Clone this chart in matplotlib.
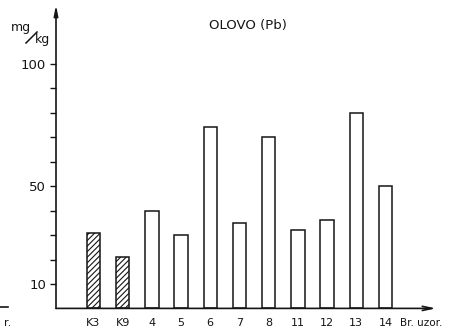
import matplotlib
matplotlib.use('Agg')
import matplotlib.pyplot as plt
from matplotlib.ticker import FixedLocator, FixedFormatter

# sample labels and lead content (mg/kg)
samples = ['K3', 'K9', '4', '5', '6', '7', '8', '11', '12', '13', '14']
lead = [31, 21, 40, 30, 74, 35, 70, 32, 36, 80, 50]
control = ['K3', 'K9']
y_ticks = [10, 20, 30, 40, 50, 60, 70, 80, 90, 100]
y_labels = ['10', '', '', '', '50', '', '', '', '', '100']

INK = '#151515'
plt.rcParams['hatch.linewidth'] = 0.8
plt.rcParams['hatch.color'] = INK

fig = plt.figure(figsize=(4.49, 3.28), dpi=100)
fig.patch.set_facecolor('white')
ax = fig.add_axes([56 / 449, 19.6 / 328, 380 / 449, 303.4 / 328])
ax.set_xlim(-1.28, 11.73)
ax.set_ylim(0, 124.1)

for i, (s, v) in enumerate(zip(samples, lead)):
    ax.bar(i, v, width=0.46, facecolor='white', edgecolor=INK, linewidth=1.1,
           hatch='//////' if s in control else None, zorder=2)
    ax.text(i, -7.0, s, ha='center', va='baseline', fontsize=8, color=INK, clip_on=False)

# axes drawn as arrows
for side in ax.spines.values():
    side.set_visible(False)
ax.annotate('', xy=(0, 1.0), xytext=(0, 0), xycoords='axes fraction',
            arrowprops=dict(arrowstyle='-|>,head_length=0.6,head_width=0.12',
                            lw=1.2, color=INK, shrinkA=0, shrinkB=0))
ax.annotate('', xy=(1.0, 0), xytext=(0, 0), xycoords='axes fraction',
            arrowprops=dict(arrowstyle='->,head_length=0.7,head_width=0.15',
                            lw=1.2, color=INK, shrinkA=0, shrinkB=0))

ax.yaxis.set_major_locator(FixedLocator(y_ticks))
ax.yaxis.set_major_formatter(FixedFormatter(y_labels))
ax.tick_params(axis='y', direction='out', length=4, width=1, colors=INK,
               labelsize=9.5, pad=3)
ax.set_xticks([])

ax.text(0.906, -7.0, 'Br. uzor.', transform=ax.get_yaxis_transform(),
        ha='left', va='baseline', fontsize=7.5, color=INK, clip_on=False)

fig.text(248 / 449, 1 - 25 / 328, 'OLOVO (Pb)', ha='center', va='center',
         fontsize=9.5, color=INK)

# unit label mg/kg
fig.text(21 / 449, 1 - 27 / 328, 'mg', ha='center', va='center', fontsize=9, color=INK)
fig.add_artist(plt.Line2D([26 / 449, 37 / 449], [1 - 43 / 328, 1 - 32 / 328],
                          color=INK, lw=1.1))
fig.text(43 / 449, 1 - 40 / 328, 'kg', ha='center', va='center', fontsize=9, color=INK)

# cut-off remnant of neighbouring chart at the left edge
fig.text(4 / 449, 1 - 326 / 328, 'r.', ha='left', va='baseline', fontsize=8, color=INK)
fig.add_artist(plt.Line2D([0, 8 / 449], [1 - 307 / 328] * 2, color=INK, lw=1.2))

fig.savefig('out.png', dpi=100, facecolor='white')
